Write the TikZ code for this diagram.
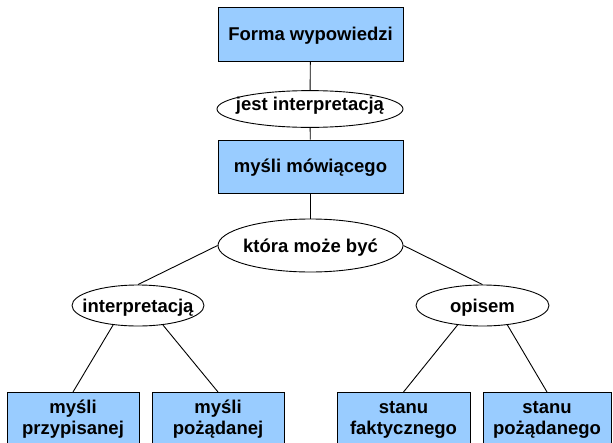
\documentclass[tikz,border=0pt]{standalone}
\usepackage{fontspec}
\setmainfont{Liberation Sans}
\usetikzlibrary{shapes.geometric}
\definecolor{boxblue}{HTML}{99CCFF}
\tikzset{
  lbl/.style={font=\bfseries\fontsize{18.5}{20.5}\selectfont},
  topbox/.style={lbl, rectangle, draw=black, fill=boxblue, line width=0.9pt,
    minimum width=185pt, minimum height=54pt, inner sep=0pt,
    text height=12.5pt, text depth=0pt},
  oval/.style={lbl, ellipse, draw=black, fill=white, line width=0.9pt,
    inner sep=0pt, text height=14pt, text depth=0pt},
  leaf/.style={lbl, rectangle, draw=black, fill=boxblue, line width=0.9pt,
    minimum height=54pt, inner sep=0pt, align=center, anchor=north},
  conn/.style={draw=black, line width=0.9pt}
}
\newcommand{\topst}{\rule{0pt}{14pt}}
\newcommand{\botst}{\rule[-4.5pt]{0pt}{4.5pt}}
\begin{document}
\begin{tikzpicture}[x=1pt, y=-1pt]
\path[use as bounding box, clip] (0,0) rectangle (613,442);
\fill[white] (0,0) rectangle (613,442);

\node[topbox] (forma) at (310.5,34) {Forma wypowiedzi};
\node[oval, minimum width=186pt, minimum height=36pt, text depth=12pt] (jest) at (310,109) {\makebox[0pt]{jest interpretacją}};
\node[topbox, minimum height=53pt] (mysli) at (310.5,166.5) {myśli mówiącego};
\node[oval, minimum width=185pt, minimum height=53pt] (ktora) at (310.5,245.5) {\makebox[0pt]{która może być}};
\node[oval, minimum width=132pt, minimum height=41pt] (interp) at (138,305.5) {\makebox[0pt]{interpretacją}};
\node[oval, minimum width=133pt, minimum height=41pt] (opisem) at (482.5,305.5) {\makebox[0pt]{opisem}};

\node[leaf, minimum width=132pt] (l1) at (73,392) {\topst myśli\\przypisanej\botst};
\node[leaf, minimum width=132pt] (l2) at (218,392) {\topst myśli\\pożądanej\botst};
\node[leaf, minimum width=133pt] (l3) at (403.5,392) {\topst stanu\\faktycznego\botst};
\node[leaf, minimum width=128pt] (l4) at (547,392) {\topst stanu\\pożądanego\botst};

\draw[conn] (forma) -- (jest);
\draw[conn] (jest) -- (mysli);
\draw[conn] (mysli) -- (ktora);
\draw[conn] (ktora.west) -- (interp.north);
\draw[conn] (ktora.east) -- (opisem.north);
\draw[conn] (interp.218) -- (l1.north);
\draw[conn] (interp.322) -- (l2.north);
\draw[conn] (opisem.218) -- (l3.north);
\draw[conn] (opisem.322) -- (l4.north);
\end{tikzpicture}
\end{document}
